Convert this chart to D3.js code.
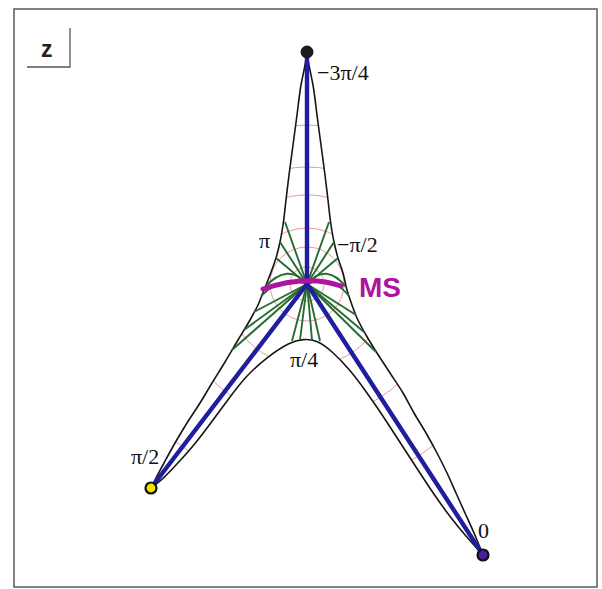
<!DOCTYPE html>
<html>
<head>
<meta charset="utf-8">
<script src="https://cdn.jsdelivr.net/npm/d3@7"></script>
<style>
  html, body { margin: 0; padding: 0; background: #fff; }
  svg { display: block; }
</style>
</head>
<body>
<script>
// Image of the z-plane: three legs meeting at the hub (0,0).
const hub = [0, 0];
const vertexTop = [0, 2.32];
const vertexLeft = [-1.56, -2.04];
const vertexRight = [1.76, -2.71];

// Outer boundary, top vertex to left vertex
const outerLeft = [
  [0, 2.32], [-0.02, 2.19], [-0.06, 1.99], [-0.10, 1.69], [-0.14, 1.39], [-0.18, 1.09],
  [-0.21, 0.84], [-0.24, 0.59], [-0.27, 0.42], [-0.31, 0.26], [-0.37, 0.09], [-0.43, -0.06],
  [-0.49, -0.21], [-0.57, -0.36], [-0.69, -0.56], [-0.82, -0.78], [-0.95, -0.99], [-1.07, -1.19],
  [-1.20, -1.39], [-1.32, -1.59], [-1.43, -1.79], [-1.51, -1.94], [-1.56, -2.04]
];
// Outer boundary, top vertex to right vertex
const outerRight = [
  [0, 2.32], [0.02, 2.19], [0.06, 1.99], [0.10, 1.69], [0.14, 1.39], [0.18, 1.09],
  [0.21, 0.84], [0.24, 0.59], [0.27, 0.42], [0.31, 0.26], [0.36, 0.11], [0.40, -0.06],
  [0.45, -0.21], [0.50, -0.34], [0.59, -0.51], [0.70, -0.69], [0.83, -0.89], [0.96, -1.09],
  [1.07, -1.29], [1.19, -1.49], [1.30, -1.69], [1.40, -1.89], [1.49, -2.09], [1.58, -2.29],
  [1.67, -2.49], [1.76, -2.71]
];
// Inner boundary, left vertex to right vertex
const innerCurve = [
  [-1.56, -2.04], [-1.44, -1.95], [-1.29, -1.79], [-1.11, -1.59], [-0.94, -1.36], [-0.77, -1.13],
  [-0.62, -0.93], [-0.40, -0.73], [-0.17, -0.58], [-0.04, -0.55], [0.10, -0.56], [0.26, -0.68],
  [0.43, -0.86], [0.58, -1.06], [0.72, -1.26], [0.85, -1.46], [0.98, -1.66], [1.11, -1.86],
  [1.24, -2.06], [1.38, -2.26], [1.52, -2.44], [1.65, -2.59], [1.76, -2.71]
];

// Level circles |z - hub| = r, clipped to the domain
const hubRadii = [0.17, 0.37];
const spireRadii = [0.56, 0.89, 1.17, 1.59];
const legRadii = [0.82, 1.35, 2.05];

// Straight field lines leaving the hub (end points on the boundary)
const fieldRays = [
  [-0.22, 0.62], [-0.27, 0.42], [-0.31, 0.26],
  [0.22, 0.62], [0.27, 0.42], [0.31, 0.26],
  [-0.53, -0.28], [-0.63, -0.46], [-0.75, -0.66],
  [0.49, -0.31], [0.57, -0.48], [0.69, -0.68],
  [-0.15, -0.57], [-0.07, -0.56], [0.05, -0.56], [0.13, -0.57]
];
// Bent field lines: [control point, end point]
const fieldBends = [
  [[-0.19, 0.22], [-0.42, -0.03]],
  [[-0.24, 0.10], [-0.46, -0.12]],
  [[0.19, 0.22], [0.39, -0.03]],
  [[0.24, 0.10], [0.42, -0.12]]
];

// MS arc: start, control, end
const msArc = [[-0.44, -0.05], [0, 0.10], [0.34, -0.02]];

// Boundary labels
const labelText = ["\u22123\u03c0/4", "\u03c0", "\u2212\u03c0/2", "\u03c0/4", "\u03c0/2", "0"];
const labelPos = [[0.10, 2.04], [-0.48, 0.36], [0.30, 0.32], [-0.17, -0.83], [-1.76, -1.8], [1.71, -2.54]];
const msLabel = "MS";
const msLabelPos = [0.52, -0.13];
const planeName = "z";

const W = 602, H = 589;
const svg = d3.select("body").append("svg").attr("width", W).attr("height", H);

const xScale = d3.scaleLinear().domain([-3, 3]).range([7, 607]);
const yScale = d3.scaleLinear().domain([-3, 3]).range([584, -16]);
const px = p => [xScale(p[0]), yScale(p[1])];
const unit = xScale(1) - xScale(0);

// Frame and plane tag
svg.append("rect").attr("x", 14).attr("y", 9).attr("width", 583).attr("height", 578)
  .attr("fill", "#fff").attr("stroke", "#5a5a5a").attr("stroke-width", 1.5);
svg.append("path").attr("d", "M27,67 H70 V28").attr("fill", "none")
  .attr("stroke", "#555").attr("stroke-width", 1.3);
svg.append("text").attr("x", 41).attr("y", 57).text(planeName)
  .attr("font-family", "Liberation Sans, Arial, sans-serif").attr("font-size", 23)
  .attr("font-weight", "bold").attr("fill", "#222");

const lineY = d3.line().x(d => xScale(d[0])).y(d => yScale(d[1])).curve(d3.curveMonotoneY);
const lineB = d3.line().x(d => xScale(d[0])).y(d => yScale(d[1])).curve(d3.curveBasis);

// Clip region: the whole three-legged domain
const domainPoly = outerLeft.concat(innerCurve.slice(1), outerRight.slice().reverse().slice(1));
const defs = svg.append("defs");
defs.append("clipPath").attr("id", "domain-clip")
  .append("path")
  .attr("d", d3.line().x(d => xScale(d[0])).y(d => yScale(d[1])).curve(d3.curveLinearClosed)(domainPoly));

// Level circles
const cx = xScale(hub[0]), cy = yScale(hub[1]);
const arcPath = (r, a0, a1) => { const p = d3.path(); p.moveTo(cx + r * Math.cos(a0), cy + r * Math.sin(a0)); p.arc(cx, cy, r, a0, a1); return p.toString(); };
const levels = svg.append("g").attr("clip-path", "url(#domain-clip)")
  .attr("fill", "none").attr("stroke", "#e07272").attr("stroke-width", 0.9).attr("opacity", 0.8);
hubRadii.forEach(r => levels.append("path").attr("d", arcPath(r * unit, 0, 2 * Math.PI)));
spireRadii.forEach(r => levels.append("path").attr("d", arcPath(r * unit, -Math.PI, 0)));
legRadii.forEach(r => levels.append("path").attr("d", arcPath(r * unit, 0, Math.PI)));

// Boundary curves
const bound = svg.append("g").attr("fill", "none").attr("stroke", "#161616").attr("stroke-width", 1.6);
bound.append("path").attr("d", lineY(outerLeft));
bound.append("path").attr("d", lineY(outerRight));
bound.append("path").attr("d", lineB(innerCurve));

// Field lines
const field = svg.append("g").attr("fill", "none").attr("stroke", "#266b32").attr("stroke-width", 1.9);
fieldRays.forEach(e => field.append("path").attr("d", d3.line()([px(hub), px(e)])));
fieldBends.forEach(([c, e]) => {
  const p = d3.path(); const a = px(hub), b = px(c), d = px(e);
  p.moveTo(a[0], a[1]); p.quadraticCurveTo(b[0], b[1], d[0], d[1]);
  field.append("path").attr("d", p.toString());
});

// Legs from the hub to each vertex
const legs = svg.append("g").attr("stroke", "#1e1e9e").attr("stroke-width", 4.4).attr("stroke-linecap", "round");
[vertexTop, vertexLeft, vertexRight].forEach(v => legs.append("path").attr("d", d3.line()([px(hub), px(v)])));

// MS arc
{
  const p = d3.path(); const a = px(msArc[0]), b = px(msArc[1]), c = px(msArc[2]);
  p.moveTo(a[0], a[1]); p.quadraticCurveTo(b[0], b[1], c[0], c[1]);
  svg.append("path").attr("d", p.toString()).attr("fill", "none")
    .attr("stroke", "#b0139e").attr("stroke-width", 5).attr("stroke-linecap", "round");
}

// Vertices
const vertexFill = ["#1c1c1c", "#f2e400", "#4a1d9a"];
[vertexTop, vertexLeft, vertexRight].forEach((v, i) => {
  svg.append("circle").attr("cx", xScale(v[0])).attr("cy", yScale(v[1]))
    .attr("r", i === 0 ? 6 : 5.5).attr("fill", vertexFill[i])
    .attr("stroke", "#111").attr("stroke-width", i === 0 ? 1 : 2.2);
});

// Labels
labelText.forEach((t, i) => {
  svg.append("text").attr("x", xScale(labelPos[i][0])).attr("y", yScale(labelPos[i][1]))
    .text(t).attr("font-family", "Liberation Serif, Times New Roman, serif")
    .attr("font-size", 22).attr("fill", "#111");
});
svg.append("text").attr("x", xScale(msLabelPos[0])).attr("y", yScale(msLabelPos[1]))
  .text(msLabel).attr("font-family", "Liberation Sans, Arial, sans-serif")
  .attr("font-size", 28).attr("font-weight", "bold").attr("fill", "#b0139e");
</script>
</body>
</html>
